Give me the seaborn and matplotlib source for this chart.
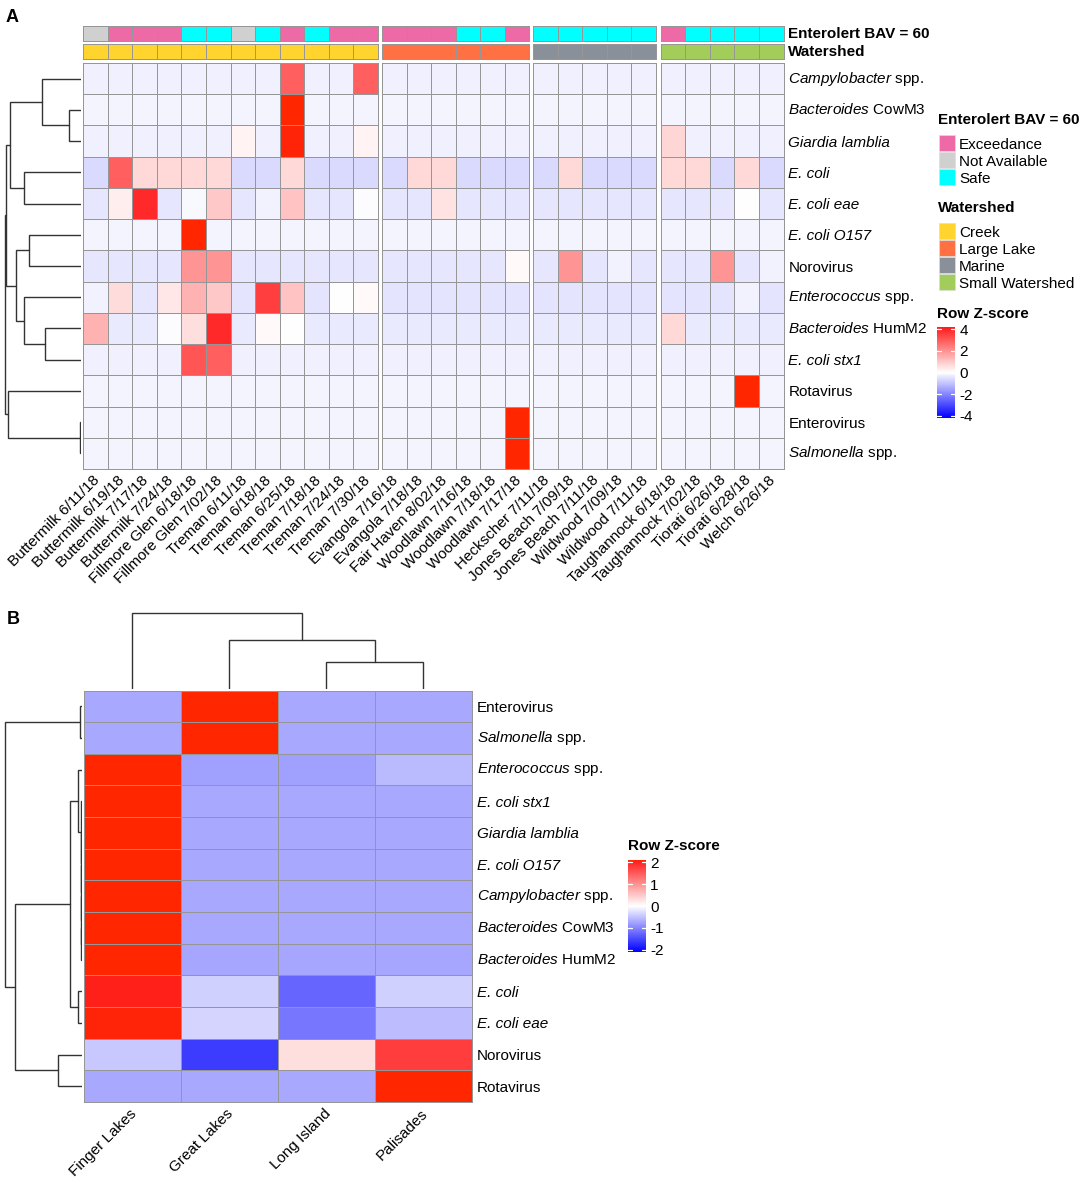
import pandas as pd
import matplotlib
matplotlib.use("Agg")
import matplotlib.pyplot as plt
from matplotlib.colors import LinearSegmentedColormap, ListedColormap
from matplotlib.patches import Rectangle
from matplotlib.transforms import ScaledTranslation
import seaborn as sns

W, H = 1084, 1183

sites = ["Buttermilk 6/11/18", "Buttermilk 6/19/18", "Buttermilk 7/17/18", "Buttermilk 7/24/18",
         "Fillmore Glen 6/18/18", "Fillmore Glen 7/02/18", "Treman 6/11/18", "Treman 6/18/18",
         "Treman 6/25/18", "Treman 7/18/18", "Treman 7/24/18", "Treman 7/30/18",
         "Evangola 7/16/18", "Evangola 7/18/18", "Fair Haven 8/02/18", "Woodlawn 7/16/18",
         "Woodlawn 7/18/18", "Woodlawn 7/17/18", "Heckscher 7/11/18", "Jones Beach 7/09/18",
         "Jones Beach 7/11/18", "Wildwood 7/09/18", "Wildwood 7/11/18", "Taughannock 6/18/18",
         "Taughannock 7/02/18", "Tiorati 6/26/18", "Tiorati 6/28/18", "Welch 6/26/18"]
group_sizes = [12, 6, 5, 5]
enterolert = ["NA", "Ex", "Ex", "Ex", "Safe", "Safe", "NA", "Safe", "Ex", "Safe", "Ex", "Ex",
              "Ex", "Ex", "Ex", "Safe", "Safe", "Ex",
              "Safe", "Safe", "Safe", "Safe", "Safe",
              "Ex", "Safe", "Safe", "Safe", "Safe"]
watershed = ["Creek"] * 12 + ["Large Lake"] * 6 + ["Marine"] * 5 + ["Small Watershed"] * 5

CAMPY = r"$\mathit{Campylobacter}$ spp."
COW = r"$\mathit{Bacteroides}$ CowM3"
GIARDIA = "Giardia lamblia"
ECOLI = "E. coli"
EAE = "E. coli eae"
O157 = "E. coli O157"
NORO = "Norovirus"
ENTEROC = r"$\mathit{Enterococcus}$ spp."
HUM = r"$\mathit{Bacteroides}$ HumM2"
STX = "E. coli stx1"
ROTA = "Rotavirus"
ENTEROV = "Enterovirus"
SALM = r"$\mathit{Salmonella}$ spp."
italic_labels = [GIARDIA, ECOLI, EAE, O157, STX]

# panel A, z-scores
campy_a = [-.25, -.25, -.25, -.25, -.25, -.25, -.25, -.25, 2.9, -.25, -.25, 2.9,
           -.25, -.25, -.25, -.25, -.25, -.25, -.25, -.25, -.25, -.25, -.25, -.25, -.25, -.25, -.25, -.25]
cow_a = [-.18, -.18, -.18, -.18, -.18, -.18, -.18, -.18, 4.2, -.18, -.18, -.18,
         -.18, -.18, -.18, -.18, -.18, -.18, -.18, -.18, -.18, -.18, -.18, -.18, -.18, -.18, -.18, -.18]
giardia_a = [-.25, -.25, -.25, -.25, -.25, -.25, .2, -.25, 4.15, -.25, -.25, .2,
             -.25, -.25, -.25, -.25, -.25, -.25, -.25, -.25, -.25, -.25, -.25, .75, -.25, -.25, -.25, -.25]
ecoli_a = [-.6, 2.9, .7, .7, .7, .7, -.6, -.6, .7, -.6, -.6, -.6,
           -.6, .7, .7, -.6, -.6, -.6, -.6, .7, -.6, -.6, -.6, .7, .7, -.6, .7, -.6]
eae_a = [-.4, .3, 3.9, -.4, -.1, 1.0, -.4, -.2, 1.1, -.4, -.4, -.06,
         -.4, -.4, .5, -.4, -.4, -.4, -.4, -.4, -.4, -.4, -.4, -.4, -.4, -.4, 0, -.4]
o157_a = [-.18, -.18, -.18, -.18, 4.2, -.18, -.18, -.18, -.18, -.18, -.18, -.18,
          -.18, -.18, -.18, -.18, -.18, -.18, -.18, -.18, -.18, -.18, -.18, -.18, -.18, -.18, -.18, -.18]
noro_a = [-.4, -.4, -.4, -.4, 1.95, 1.95, -.4, -.4, -.4, -.4, -.4, -.4,
          -.4, -.4, -.4, -.4, -.4, .1, -.4, 1.95, -.4, -.2, -.4, -.4, -.4, 1.95, -.4, -.2]
enteroc_a = [-.2, .65, -.4, .45, 1.4, 1.0, -.45, 3.5, 1.1, -.45, 0, .1,
             -.45, -.45, -.45, -.45, -.45, -.45, -.45, -.45, -.45, -.45, -.45, -.45, -.45, -.45, -.2, -.45]
hum_a = [1.4, -.35, -.35, -.05, .6, 3.9, -.35, .1, -.02, -.35, -.35, -.35,
         -.35, -.35, -.35, -.35, -.35, -.35, -.35, -.35, -.35, -.35, -.35, .7, -.35, -.35, -.35, -.35]
stx_a = [-.25, -.25, -.25, -.25, 3.1, 2.9, -.25, -.25, -.25, -.25, -.25, -.25,
         -.25, -.25, -.25, -.25, -.25, -.25, -.25, -.25, -.25, -.25, -.25, -.25, -.25, -.25, -.25, -.25]
rota_a = [-.17, -.17, -.17, -.17, -.17, -.17, -.17, -.17, -.17, -.17, -.17, -.17,
          -.17, -.17, -.17, -.17, -.17, -.17, -.17, -.17, -.17, -.17, -.17, -.17, -.17, -.17, 4.2, -.17]
enterov_a = [-.17, -.17, -.17, -.17, -.17, -.17, -.17, -.17, -.17, -.17, -.17, -.17,
             -.17, -.17, -.17, -.17, -.17, 4.2, -.17, -.17, -.17, -.17, -.17, -.17, -.17, -.17, -.17, -.17]
salm_a = [-.17, -.17, -.17, -.17, -.17, -.17, -.17, -.17, -.17, -.17, -.17, -.17,
          -.17, -.17, -.17, -.17, -.17, 4.2, -.17, -.17, -.17, -.17, -.17, -.17, -.17, -.17, -.17, -.17]

rows_a = [CAMPY, COW, GIARDIA, ECOLI, EAE, O157, NORO, ENTEROC, HUM, STX, ROTA, ENTEROV, SALM]
values_a = [campy_a, cow_a, giardia_a, ecoli_a, eae_a, o157_a, noro_a, enteroc_a, hum_a, stx_a,
            rota_a, enterov_a, salm_a]

# panel B
regions = ["Finger Lakes", "Great Lakes", "Long Island", "Palisades"]
rows_b = [ENTEROV, SALM, ENTEROC, STX, GIARDIA, O157, CAMPY, COW, HUM, ECOLI, EAE, NORO, ROTA]
values_b = [[-.71, 2.1, -.71, -.71],
            [-.71, 2.1, -.71, -.71],
            [2.1, -.78, -.78, -.57],
            [2.1, -.71, -.71, -.71],
            [2.1, -.71, -.71, -.71],
            [2.1, -.71, -.71, -.71],
            [2.1, -.71, -.71, -.71],
            [2.1, -.71, -.71, -.71],
            [2.1, -.73, -.73, -.73],
            [2.05, -.38, -1.25, -.38],
            [2.07, -.36, -1.13, -.55],
            [-.45, -1.6, .3, 1.76],
            [-.71, -.71, -.71, 2.1]]

# dendrograms as (height, child, child); heights in pixels above the leaves
tree_a = (75.7,
          (75.2,
           (71, (39, CAMPY, (12, COW, GIARDIA)), (57, ECOLI, EAE)),
           (65, (52, O157, NORO), (57, ENTEROC, (36, HUM, STX)))),
          (73, ROTA, (1, ENTEROV, SALM)))
tree_b_rows = (76.5,
               (1.5, ENTEROV, SALM),
               (66.5,
                (11.5,
                 (3.3, ENTEROC,
                  (.8, STX, (.6, GIARDIA, (.5, O157, (.4, CAMPY, (.3, COW, HUM)))))),
                 (3.5, ECOLI, EAE)),
                (23.5, NORO, ROTA)))
tree_b_cols = (76, regions[0], (49, regions[1], (27, regions[2], regions[3])))

enterolert_names = ["Exceedance", "Not Available", "Safe"]
enterolert_keys = ["Ex", "NA", "Safe"]
enterolert_colors = ["#EE6AA7", "#D0D0D0", "#00FFFF"]
watershed_names = ["Creek", "Large Lake", "Marine", "Small Watershed"]
watershed_colors = ["#FFD42F", "#FF7043", "#8A9099", "#A2CD5A"]

sns.set_theme(style="white")
plt.rcParams["font.family"] = ["Liberation Sans", "DejaVu Sans"]
plt.rcParams["mathtext.fontset"] = "custom"
plt.rcParams["mathtext.rm"] = "Liberation Sans"
plt.rcParams["mathtext.it"] = "Liberation Sans:italic"
plt.rcParams["mathtext.bf"] = "Liberation Sans:bold"
plt.rcParams["text.color"] = "black"
plt.rcParams["xtick.color"] = "black"
plt.rcParams["ytick.color"] = "black"
FS = 11
GREY = "#969696"
LINE = "#333333"

cmap = LinearSegmentedColormap.from_list(
    "zscore", [(0, "#0000FF"), (.5, "#FFFFFF"), (.985, "#FF2020"), (1, "#FF2600")])

fig = plt.figure(figsize=(W / 100, H / 100), dpi=100)
fig.patch.set_facecolor("white")


def px_axes(x0, y0, x1, y1):
    return fig.add_axes([x0 / W, 1 - y1 / H, (x1 - x0) / W, (y1 - y0) / H])


def draw_cells(ax, data, **kws):
    sns.heatmap(data, ax=ax, linewidths=0.68, linecolor=GREY, **kws)
    ax.collections[0].set_clip_on(False)
    ax.tick_params(length=0, pad=0)
    ax.set_xlabel("")
    ax.set_ylabel("")


def style_labels(ax, pad_x):
    plt.setp(ax.get_xticklabels(), rotation=45, ha="right", va="center", rotation_mode="anchor",
             fontsize=FS, color="black")
    ax.tick_params(axis="x", pad=pad_x)
    # nudge the rotated labels 2 px to the right
    nudge = ScaledTranslation(2 / 100, 0, fig.dpi_scale_trans)
    for lab in ax.get_xticklabels():
        lab.set_transform(lab.get_transform() + nudge)


def style_row_labels(ax):
    ax.yaxis.tick_right()
    ax.tick_params(axis="y", pad=3.5, length=0)
    plt.setp(ax.get_yticklabels(), rotation=0, fontsize=FS, color="black", va="center_baseline")
    for lab in ax.get_yticklabels():
        if lab.get_text() in italic_labels:
            lab.set_fontstyle("italic")
        if "$" in lab.get_text():
            lab.set_va("center")


def draw_tree(ax, node, leaves, horizontal):
    # returns (position, height) of the node, draws its fork
    if isinstance(node, str):
        return leaves.index(node) + 0.5, 0
    height, left, right = node
    p1, h1 = draw_tree(ax, left, leaves, horizontal)
    p2, h2 = draw_tree(ax, right, leaves, horizontal)
    hs = [h1, height, height, h2]
    ps = [p1, p1, p2, p2]
    if horizontal:
        ax.plot(hs, ps, color=LINE, lw=1.0, solid_joinstyle="miter")
    else:
        ax.plot(ps, hs, color=LINE, lw=1.0, solid_joinstyle="miter")
    return (p1 + p2) / 2, height


def add_key(vmax, ticks, x0, y_title, y0, y1):
    fig.text(x0 / W, 1 - y_title / H, "Row Z-score", fontsize=FS, fontweight="bold", va="center")
    sm = plt.cm.ScalarMappable(cmap=cmap, norm=plt.Normalize(-vmax, vmax))
    cax = px_axes(x0, y0, x0 + 18, y1)
    cb = fig.colorbar(sm, cax=cax)
    cb.outline.set_visible(False)
    cb.set_ticks(ticks)
    cb.set_ticklabels([str(t) for t in ticks])
    cax.tick_params(length=0, pad=3, labelsize=FS)
    # white notches on both edges of the key
    for t in ticks:
        cax.plot([0, 0.22], [t, t], color="white", lw=0.9, transform=cax.get_yaxis_transform())
        cax.plot([0.78, 1], [t, t], color="white", lw=0.9, transform=cax.get_yaxis_transform())


def add_legend(title, names, colors, y_title, y0):
    fig.text(938 / W, 1 - y_title / H, title, fontsize=FS, fontweight="bold", va="center")
    for i, (name, col) in enumerate(zip(names, colors)):
        y = y0 + i * 17
        fig.add_artist(Rectangle((938.5 / W, 1 - (y + 16) / H), 16 / W, 16 / H, transform=fig.transFigure,
                                 facecolor=col, edgecolor="#dddddd", lw=0.5))
        fig.text(959 / W, 1 - (y + 8.5) / H, name, fontsize=FS, va="center_baseline")


# ---------- panel A ----------
df_a = pd.DataFrame(values_a, index=rows_a, columns=sites)
status_codes = [enterolert_keys.index(s) for s in enterolert]
shed_codes = [watershed_names.index(s) for s in watershed]

edges = [(83, 378), (382, 529), (533, 656), (660.5, 783.5)]
start = 0
for i, (size, (x0, x1)) in enumerate(zip(group_sizes, edges)):
    stop = start + size
    last = i == len(edges) - 1

    ax = px_axes(x0, 26, x1, 41)
    draw_cells(ax, [status_codes[start:stop]], cmap=ListedColormap(enterolert_colors),
               vmin=-.5, vmax=2.5, cbar=False, xticklabels=False, yticklabels=False)
    ax = px_axes(x0, 44, x1, 59)
    draw_cells(ax, [shed_codes[start:stop]], cmap=ListedColormap(watershed_colors),
               vmin=-.5, vmax=3.5, cbar=False, xticklabels=False, yticklabels=False)

    ax = px_axes(x0, 63, x1, 469)
    draw_cells(ax, df_a.iloc[:, start:stop], cmap=cmap, vmin=-4.2, vmax=4.2, cbar=False,
               xticklabels=True, yticklabels=last)
    style_labels(ax, 6.5)
    if last:
        style_row_labels(ax)
    start = stop

fig.text(788 / W, 1 - 33.5 / H, "Enterolert BAV = 60", fontsize=FS, fontweight="bold", va="center")
fig.text(788 / W, 1 - 51.5 / H, "Watershed", fontsize=FS, fontweight="bold", va="center")

ax = px_axes(0, 63, 81, 469)
draw_tree(ax, tree_a, rows_a, True)
ax.set_xlim(81, 0)
ax.set_ylim(len(rows_a), 0)
ax.axis("off")

add_legend("Enterolert BAV = 60", enterolert_names, enterolert_colors, 120.5, 135)
add_legend("Watershed", watershed_names, watershed_colors, 208.5, 223)
add_key(4.2, [4, 2, 0, -2, -4], 937, 313.5, 327, 418)

# ---------- panel B ----------
df_b = pd.DataFrame(values_b, index=rows_b, columns=regions)
ax = px_axes(83.5, 690.5, 472, 1102)
draw_cells(ax, df_b, cmap=cmap, vmin=-2.1, vmax=2.1, cbar=False, xticklabels=True, yticklabels=True)
style_labels(ax, 7)
style_row_labels(ax)

ax = px_axes(0, 690.5, 81.5, 1102)
draw_tree(ax, tree_b_rows, rows_b, True)
ax.set_xlim(81.5, 0)
ax.set_ylim(len(rows_b), 0)
ax.axis("off")

ax = px_axes(83.5, 600, 472, 688.5)
draw_tree(ax, tree_b_cols, regions, False)
ax.set_xlim(0, len(regions))
ax.set_ylim(0, 88.5)
ax.axis("off")

add_key(2.1, [2, 1, 0, -1, -2], 628, 846.5, 860, 952)

fig.text(6 / W, 1 - 17 / H, "A", fontsize=13, fontweight="bold", va="center")
fig.text(6.5 / W, 1 - 620 / H, "B", fontsize=13, fontweight="bold", va="center")

fig.savefig("out.png", dpi=100)
